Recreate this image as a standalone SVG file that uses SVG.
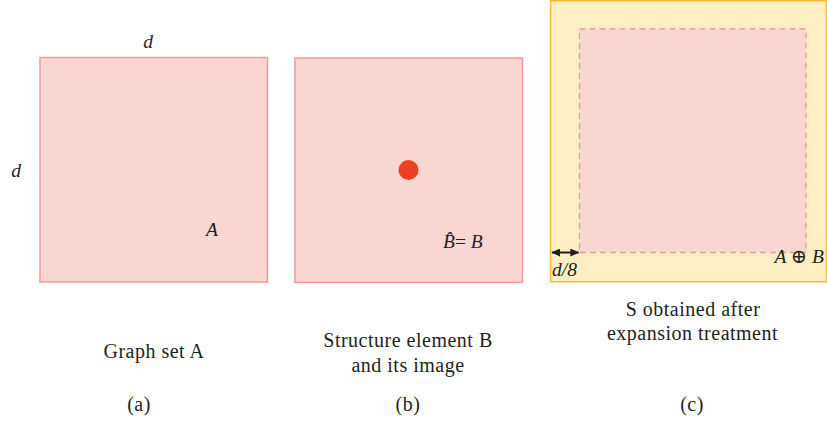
<svg xmlns="http://www.w3.org/2000/svg" width="827" height="422" viewBox="0 0 827 422">
<style>
text{font-family:"Liberation Serif","DejaVu Serif",serif;fill:#231f20}
.cap{font-size:20px;letter-spacing:0.5px;text-anchor:middle}
.it{font-style:italic;font-size:19.5px}
.pink{fill:#f9d6d1;stroke:#f09b9b;stroke-width:1.5}
</style>
<defs>
<marker id="ah" viewBox="0 0 10 10" refX="9" refY="5" markerWidth="9" markerHeight="8" orient="auto-start-reverse" markerUnits="userSpaceOnUse" preserveAspectRatio="none">
<path d="M0,0 L10,5 L0,10 z" fill="#231f20"/>
</marker>
</defs>
<rect width="827" height="422" fill="#fff"/>
<g id="panel-a">
<rect class="pink" x="40" y="57.5" width="227.5" height="224.5"/>
<text class="it" x="148" y="48" text-anchor="middle">d</text>
<text class="it" x="16" y="177" text-anchor="middle">d</text>
<text class="it" x="212" y="236" text-anchor="middle">A</text>
<text class="cap" x="154" y="358">Graph set A</text>
<text class="cap" x="139" y="411">(a)</text>
</g>
<g id="panel-b">
<rect class="pink" x="295" y="58" width="227.5" height="224.5"/>
<circle cx="408.5" cy="170" r="10" fill="#ee4123"/>
<text class="it" x="443" y="248">B̂<tspan font-style="normal">=</tspan> B</text>
<text class="cap" x="408" y="347">Structure element B</text>
<text class="cap" x="408" y="372">and its image</text>
<text class="cap" x="408" y="411">(b)</text>
</g>
<g id="panel-c">
<rect x="550.5" y="0.75" width="276" height="281" fill="#fdeec4" stroke="#f6b935" stroke-width="1.5"/>
<rect x="579.5" y="29" width="226.5" height="223.5" fill="#f9d6d1" stroke="#f09b9b" stroke-width="1.3" stroke-dasharray="6,4"/>
<text class="it" x="552" y="276">d/8</text>
<text class="it" x="824" y="263" text-anchor="end">A <tspan font-style="normal">⊕</tspan> B</text>
<text class="cap" x="693" y="316">S obtained after</text>
<text class="cap" x="692.5" y="340">expansion treatment</text>
<text class="cap" x="692" y="411">(c)</text>
</g>
<g id="connectors">
<line x1="552" y1="252.5" x2="578.5" y2="252.5" stroke="#231f20" stroke-width="2" marker-start="url(#ah)" marker-end="url(#ah)"/>
</g>
</svg>
